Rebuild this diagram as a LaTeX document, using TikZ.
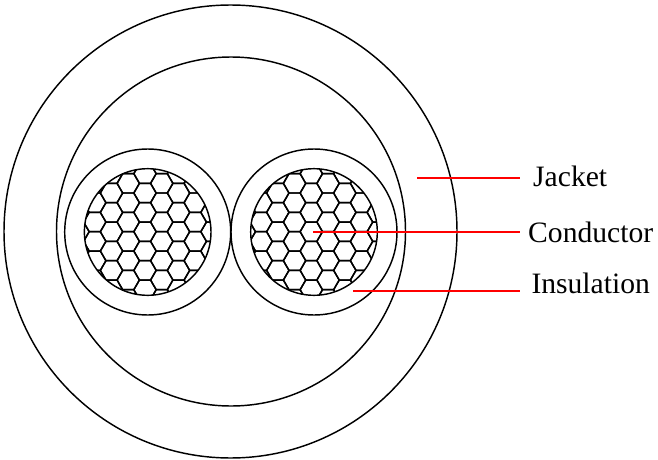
\documentclass[tikz,border=0pt]{standalone}
\usepackage{fontspec}
\setmainfont{Liberation Serif}
\newcommand{\hexfield}[2]{%
  \begin{scope}
    \clip (#1,232) circle[radius=63.3];
    \foreach \i in {-5,...,5}{
      \foreach \j in {-5,...,5}{
        \pgfmathsetmacro{\hx}{#2+16.75*\i}
        \pgfmathsetmacro{\hy}{231.7+19.34*\j+(Mod(\i,2)==1 ? 9.67 : 0)}
        \draw[wire] (\hx-11.17,\hy) -- (\hx-5.58,\hy-9.67) -- (\hx+5.58,\hy-9.67)
          -- (\hx+11.17,\hy) -- (\hx+5.58,\hy+9.67) -- (\hx-5.58,\hy+9.67) -- cycle;
      }
    }
  \end{scope}
  \draw[wire] (#1,232) circle[radius=63.3];
  \draw[wire] (#1,232) circle[radius=83];
}
\tikzset{
  wire/.style={black,line width=1.45pt},
  callout/.style={red,line width=1.6pt},
  lbl/.style={font=\fontsize{29.6}{34}\selectfont,inner sep=0pt,text=black,anchor=base west}
}
\begin{document}
\begin{tikzpicture}[x=1pt,y=-1pt]
  \useasboundingbox (0,0) rectangle (658,460);
  \fill[white] (0,0) rectangle (658,460);
  \draw[wire] (230.5,231.5) circle[radius=226.5];
  \draw[wire] (231,231.5) circle[radius=174.5];
  \hexfield{147.7}{145}
  \hexfield{314}{311.3}
  \node[lbl] (jacket) at (533,186) {Jacket};
  \node[lbl] (conductor) at (528,242) {Conductor};
  \node[lbl] (insulation) at (531.3,293.5) {Insulation};
  \coordinate (j0) at (417,178);
  \coordinate (c0) at (313,232);
  \coordinate (i0) at (353,291);
  \coordinate (j1) at (520,178);
  \coordinate (c1) at (520,232);
  \coordinate (i1) at (520,291);
  \draw[callout] (j0) -- (j1);
  \draw[callout] (c0) -- (c1);
  \draw[callout] (i0) -- (i1);
\end{tikzpicture}
\end{document}
